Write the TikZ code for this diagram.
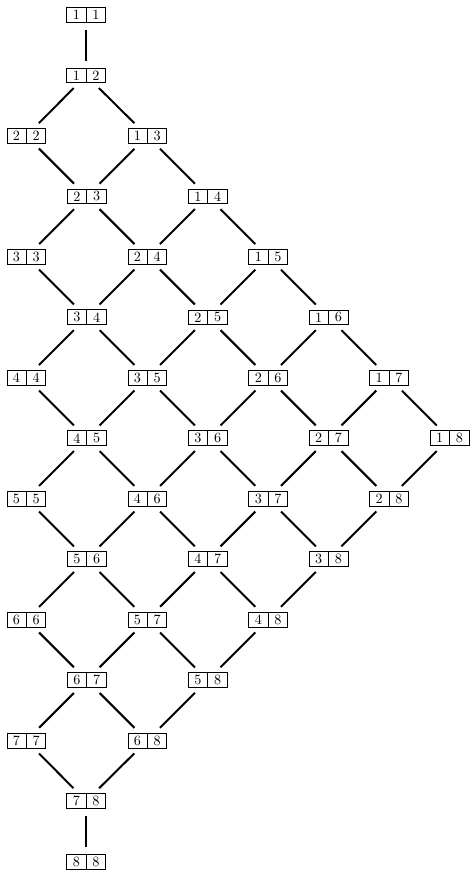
\documentclass[tikz,border=0pt]{standalone}
\usetikzlibrary{shapes.multipart}
\begin{document}
\begin{tikzpicture}[x=1.5cm,y=1.5cm]
\tikzset{
  pairnode/.style={rectangle split,rectangle split horizontal,rectangle split parts=2,draw=black,line width=0.5pt,inner xsep=4.2pt,inner ysep=1.8pt},
  pairedge/.style={draw=black,line width=1.4pt,shorten <=5pt,shorten >=5pt}
}
\useasboundingbox (-0.435,0.248) rectangle (7.327,-14.223);
\node[pairnode] (n_11) at (0.99,0) {1\nodepart{two}1};
\node[pairnode] (n_12) at (0.99,-1) {1\nodepart{two}2};
\node[pairnode] (n_22) at (0,-2) {2\nodepart{two}2};
\node[pairnode] (n_13) at (2,-2) {1\nodepart{two}3};
\node[pairnode] (n_23) at (1,-3) {2\nodepart{two}3};
\node[pairnode] (n_14) at (3,-3) {1\nodepart{two}4};
\node[pairnode] (n_33) at (0,-4) {3\nodepart{two}3};
\node[pairnode] (n_24) at (2,-4) {2\nodepart{two}4};
\node[pairnode] (n_15) at (4,-4) {1\nodepart{two}5};
\node[pairnode] (n_34) at (1,-5) {3\nodepart{two}4};
\node[pairnode] (n_25) at (3,-5) {2\nodepart{two}5};
\node[pairnode] (n_16) at (5,-5) {1\nodepart{two}6};
\node[pairnode] (n_44) at (0,-6) {4\nodepart{two}4};
\node[pairnode] (n_35) at (2,-6) {3\nodepart{two}5};
\node[pairnode] (n_26) at (4,-6) {2\nodepart{two}6};
\node[pairnode] (n_17) at (6,-6) {1\nodepart{two}7};
\node[pairnode] (n_45) at (1,-7) {4\nodepart{two}5};
\node[pairnode] (n_36) at (3,-7) {3\nodepart{two}6};
\node[pairnode] (n_27) at (5,-7) {2\nodepart{two}7};
\node[pairnode] (n_18) at (7,-7) {1\nodepart{two}8};
\node[pairnode] (n_55) at (0,-8) {5\nodepart{two}5};
\node[pairnode] (n_46) at (2,-8) {4\nodepart{two}6};
\node[pairnode] (n_37) at (4,-8) {3\nodepart{two}7};
\node[pairnode] (n_28) at (6,-8) {2\nodepart{two}8};
\node[pairnode] (n_56) at (1,-9) {5\nodepart{two}6};
\node[pairnode] (n_47) at (3,-9) {4\nodepart{two}7};
\node[pairnode] (n_38) at (5,-9) {3\nodepart{two}8};
\node[pairnode] (n_66) at (0,-10) {6\nodepart{two}6};
\node[pairnode] (n_57) at (2,-10) {5\nodepart{two}7};
\node[pairnode] (n_48) at (4,-10) {4\nodepart{two}8};
\node[pairnode] (n_67) at (1,-11) {6\nodepart{two}7};
\node[pairnode] (n_58) at (3,-11) {5\nodepart{two}8};
\node[pairnode] (n_77) at (0,-12) {7\nodepart{two}7};
\node[pairnode] (n_68) at (2,-12) {6\nodepart{two}8};
\node[pairnode] (n_78) at (0.99,-13) {7\nodepart{two}8};
\node[pairnode] (n_88) at (0.99,-14) {8\nodepart{two}8};
\draw[pairedge] (n_11) -- (n_12);
\draw[pairedge] (n_12) -- (n_13);
\draw[pairedge] (n_12) -- (n_22);
\draw[pairedge] (n_13) -- (n_14);
\draw[pairedge] (n_13) -- (n_23);
\draw[pairedge] (n_14) -- (n_15);
\draw[pairedge] (n_14) -- (n_24);
\draw[pairedge] (n_15) -- (n_16);
\draw[pairedge] (n_15) -- (n_25);
\draw[pairedge] (n_16) -- (n_17);
\draw[pairedge] (n_16) -- (n_26);
\draw[pairedge] (n_17) -- (n_18);
\draw[pairedge] (n_17) -- (n_27);
\draw[pairedge] (n_18) -- (n_28);
\draw[pairedge] (n_22) -- (n_23);
\draw[pairedge] (n_23) -- (n_24);
\draw[pairedge] (n_23) -- (n_33);
\draw[pairedge] (n_24) -- (n_25);
\draw[pairedge] (n_24) -- (n_34);
\draw[pairedge] (n_25) -- (n_26);
\draw[pairedge] (n_25) -- (n_35);
\draw[pairedge] (n_26) -- (n_27);
\draw[pairedge] (n_26) -- (n_36);
\draw[pairedge] (n_27) -- (n_28);
\draw[pairedge] (n_27) -- (n_37);
\draw[pairedge] (n_28) -- (n_38);
\draw[pairedge] (n_33) -- (n_34);
\draw[pairedge] (n_34) -- (n_35);
\draw[pairedge] (n_34) -- (n_44);
\draw[pairedge] (n_35) -- (n_36);
\draw[pairedge] (n_35) -- (n_45);
\draw[pairedge] (n_36) -- (n_37);
\draw[pairedge] (n_36) -- (n_46);
\draw[pairedge] (n_37) -- (n_38);
\draw[pairedge] (n_37) -- (n_47);
\draw[pairedge] (n_38) -- (n_48);
\draw[pairedge] (n_44) -- (n_45);
\draw[pairedge] (n_45) -- (n_46);
\draw[pairedge] (n_45) -- (n_55);
\draw[pairedge] (n_46) -- (n_47);
\draw[pairedge] (n_46) -- (n_56);
\draw[pairedge] (n_47) -- (n_48);
\draw[pairedge] (n_47) -- (n_57);
\draw[pairedge] (n_48) -- (n_58);
\draw[pairedge] (n_55) -- (n_56);
\draw[pairedge] (n_56) -- (n_57);
\draw[pairedge] (n_56) -- (n_66);
\draw[pairedge] (n_57) -- (n_58);
\draw[pairedge] (n_57) -- (n_67);
\draw[pairedge] (n_58) -- (n_68);
\draw[pairedge] (n_66) -- (n_67);
\draw[pairedge] (n_67) -- (n_68);
\draw[pairedge] (n_67) -- (n_77);
\draw[pairedge] (n_68) -- (n_78);
\draw[pairedge] (n_77) -- (n_78);
\draw[pairedge] (n_78) -- (n_88);
\end{tikzpicture}
\end{document}
